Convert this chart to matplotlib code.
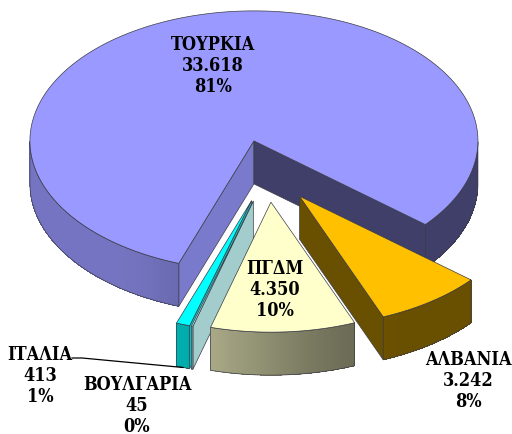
import numpy as np
import matplotlib
matplotlib.use("Agg")
import matplotlib.pyplot as plt
from matplotlib.patches import Polygon

# Data
countries = ["ΤΟΥΡΚΙΑ", "ΑΛΒΑΝΙΑ", "ΠΓΔΜ", "ΒΟΥΛΓΑΡΙΑ", "ΙΤΑΛΙΑ"]
values = [33618, 3242, 4350, 45, 413]
colors = ["#9999FF", "#FFC000", "#FFFFCC", "#CCFFFF", "#00FFFF"]

# Label placement (pixel space, centre of the middle text line)
label_pos = [(213, 66), (468, 381), (275, 290), (137, 406), (40, 376)]

# 3-D pie geometry (pixel space)
cx, cy = 268, 172          # pie centre
rx, ry = 224, 130          # ellipse radii of the top face
depth = 43                 # thickness of the pie
explode = 0.24             # explosion (fraction of radius)
start_angle = 250.4        # degrees, slices run clockwise

W, H = 512, 435
fig = plt.figure(figsize=(W / 100, H / 100), dpi=100)
ax = fig.add_axes([0, 0, 1, 1])
ax.set_xlim(0, W)
ax.set_ylim(H, 0)
ax.axis("off")

total = float(sum(values))
edge = "#3c3c46"


def rgb(hexcol):
    return np.array(matplotlib.colors.to_rgb(hexcol))


def wall_shade(phi):
    phi = (phi + 180) % 360 - 180
    t = np.clip((-phi - 60) / 70.0, 0, 1)
    s = t * t * (3 - 2 * t)
    return 0.41 + 0.35 * s


def pt(off, phi, r=1.0, z=0.0):
    a = np.radians(phi)
    return (cx + off[0] + r * rx * np.cos(a), cy + off[1] - r * ry * np.sin(a) + z)


slices = []
a = start_angle
for i, v in enumerate(values):
    span = v / total * 360.0
    a_hi, a_lo = a, a - span
    mid = (a_hi + a_lo) / 2
    m = np.radians(mid)
    off = (explode * rx * np.cos(m), -explode * ry * np.sin(m))
    slices.append(dict(i=i, hi=a_hi, lo=a_lo, mid=mid, off=off))
    a = a_lo

# back slices first
order = sorted(slices, key=lambda s: -np.sin(np.radians(s["mid"])))

for s in order:
    base = rgb(colors[s["i"]])
    off = s["off"]

    # radial side faces
    for ang, nrm in ((s["hi"], s["hi"] + 90), (s["lo"], s["lo"] - 90)):
        if np.sin(np.radians(nrm)) < 0:
            shade = 0.41 if np.cos(np.radians(nrm)) < 0 else 0.8
            poly = [pt(off, ang, 0), pt(off, ang, 1), pt(off, ang, 1, depth), pt(off, ang, 0, depth)]
            ax.add_patch(Polygon(poly, closed=True, facecolor=base * shade,
                                 edgecolor=edge, lw=0.5, zorder=1))

    # outer wall, only the parts facing the viewer
    angs = np.linspace(s["hi"], s["lo"], max(int(abs(s["hi"] - s["lo"]) * 2), 2))
    front = np.sin(np.radians(angs)) < 0
    runs, cur = [], []
    for ang, f in zip(angs, front):
        if f:
            cur.append(ang)
        elif cur:
            runs.append(cur)
            cur = []
    if cur:
        runs.append(cur)
    for run in runs:
        run = np.array(run)
        for a0, a1 in zip(run[:-1], run[1:]):
            sh = wall_shade((a0 + a1) / 2)
            quad = [pt(off, a0), pt(off, a1), pt(off, a1, 1, depth), pt(off, a0, 1, depth)]
            ax.add_patch(Polygon(quad, closed=True, facecolor=base * sh,
                                 edgecolor="none", lw=0, antialiased=False, zorder=1))
        outline = [pt(off, q) for q in run] + [pt(off, q, 1, depth) for q in run[::-1]]
        ax.add_patch(Polygon(outline, closed=True, facecolor="none",
                             edgecolor=edge, lw=0.5, zorder=1))

    # top face
    arc = np.linspace(s["hi"], s["lo"], max(int(abs(s["hi"] - s["lo"]) * 2), 2))
    top = [pt(off, 0, 0)] + [pt(off, q) for q in arc]
    ax.add_patch(Polygon(top, closed=True, facecolor=base, edgecolor=edge,
                         lw=0.5, zorder=1))

# data labels
for s in slices:
    i = s["i"]
    v = values[i]
    txt = f"{countries[i]}\n{v:,}".replace(",", ".") + f"\n{round(v / total * 100):.0f}%"
    x, y = label_pos[i]
    ax.text(x, y, txt, ha="center", va="center", fontsize=13,
            fontweight="bold", family="DejaVu Serif", fontstretch="condensed",
            linespacing=1.22, color="black", zorder=5)

# leader line for the Italy label
it = slices[4]
lx, ly = label_pos[4]
end = pt(it["off"], it["mid"], 1, depth)
ax.plot([lx + 32, lx + 42, end[0]], [ly - 17, ly - 17, end[1]],
        color="black", lw=0.9, zorder=4)

fig.savefig("out.png", dpi=100)
